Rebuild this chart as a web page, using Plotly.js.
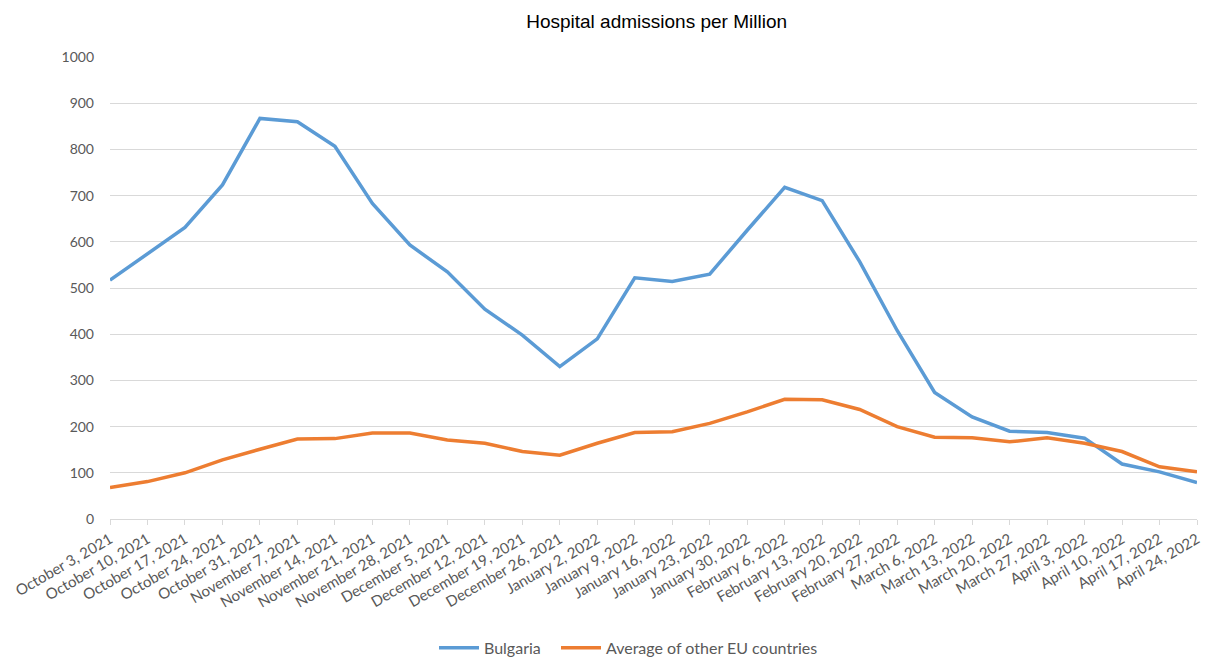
<!DOCTYPE html>
<html>
<head>
<meta charset="utf-8">
<script src="https://cdn.plot.ly/plotly-3.0.1.min.js"></script>
<style>html,body{margin:0;padding:0;background:#fff;}#chart{width:1207px;height:659px;}</style>
</head>
<body>
<div id="chart"></div>
<script>
const weeks = ["October 3, 2021","October 10, 2021","October 17, 2021","October 24, 2021","October 31, 2021",
  "November 7, 2021","November 14, 2021","November 21, 2021","November 28, 2021",
  "December 5, 2021","December 12, 2021","December 19, 2021","December 26, 2021",
  "January 2, 2022","January 9, 2022","January 16, 2022","January 23, 2022","January 30, 2022",
  "February 6, 2022","February 13, 2022","February 20, 2022","February 27, 2022",
  "March 6, 2022","March 13, 2022","March 20, 2022","March 27, 2022",
  "April 3, 2022","April 10, 2022","April 17, 2022","April 24, 2022"];
const bulgaria = [517,575,631,723,867,860,807,683,593,535,454,398,330,390,522,514,530,625,718,689,557,408,274,221,190,187,175,119,102,79];
const euAverage = [68,81,100,128,151,173,174,186,186,171,164,146,138,164,187,189,207,232,259,258,237,200,177,176,167,176,164,146,113,102];
const yTicks = [0,100,200,300,400,500,600,700,800,900,1000];

const traces = [
  {x: weeks, y: bulgaria, name: "Bulgaria", type: "scatter", mode: "lines", legend: "legend",
   line: {color: "#5b9bd5", width: 3.5}},
  {x: weeks, y: euAverage, name: "Average of other EU countries", type: "scatter", mode: "lines", legend: "legend2",
   line: {color: "#ed7d31", width: 3.5}}
];

const legendBase = {orientation: "h", xanchor: "left", xref: "container", yref: "container", y: 0.017, yanchor: "middle",
                    font: {size: 16, color: "#595959"}, itemwidth: 40, bgcolor: "rgba(0,0,0,0)"};

const layout = {
  width: 1207, height: 659,
  margin: {l: 110, r: 10, t: 57, b: 140},
  paper_bgcolor: "#ffffff", plot_bgcolor: "#ffffff",
  font: {family: "Lato, 'Open Sans', sans-serif", color: "#595959", size: 14},
  title: {text: "Hospital admissions per Million", x: 0.544, xanchor: "center", y: 0.968, yanchor: "middle",
          font: {family: "'Liberation Sans', Arial, sans-serif", size: 19, color: "#000000"}},
  xaxis: {type: "category", tickangle: -30, showgrid: false, showline: true, linecolor: "#d9d9d9", linewidth: 1,
          ticks: "outside", ticklen: 5, tickcolor: "#d9d9d9", range: [0, weeks.length - 1], automargin: false,
          tickfont: {size: 15, color: "#595959"}, zeroline: false, fixedrange: true},
  yaxis: {range: [0, 1000], tickvals: yTicks, ticktext: yTicks.map(String), showgrid: true, automargin: false,
          gridcolor: "#d9d9d9", gridwidth: 1, zeroline: false, showline: false, ticks: "",
          ticklabelstandoff: 15, tickfont: {size: 14, color: "#595959"}},
  showlegend: true,
  legend: Object.assign({}, legendBase, {x: 434 / 1207}),
  legend2: Object.assign({}, legendBase, {x: 556 / 1207})
};

Plotly.newPlot("chart", traces, layout, {displayModeBar: false, staticPlot: true});
</script>
</body>
</html>
